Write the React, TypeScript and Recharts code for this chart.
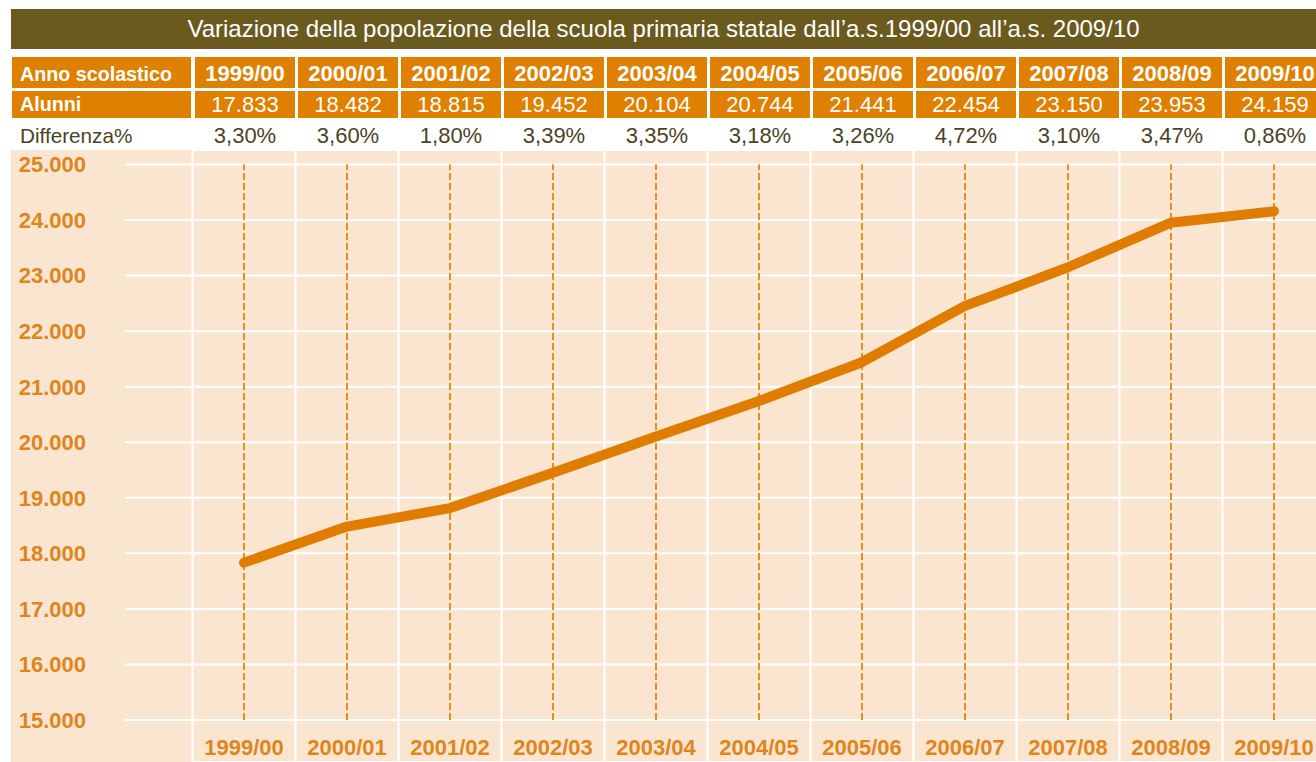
import React from 'react';
import { LineChart, Line, XAxis, YAxis, CartesianGrid, ReferenceLine } from 'recharts';

const years = ['1999/00', '2000/01', '2001/02', '2002/03', '2003/04', '2004/05', '2005/06', '2006/07', '2007/08', '2008/09', '2009/10'];
const alunni = [17833, 18482, 18815, 19452, 20104, 20744, 21441, 22454, 23150, 23953, 24159];
const differenza = ['3,30%', '3,60%', '1,80%', '3,39%', '3,35%', '3,18%', '3,26%', '4,72%', '3,10%', '3,47%', '0,86%'];
const yTicks = [15000, 16000, 17000, 18000, 19000, 20000, 21000, 22000, 23000, 24000, 25000];

const TITLE = 'Variazione della popolazione della scuola primaria statale dall’a.s.1999/00 all’a.s. 2009/10';

const data = years.map((anno, i) => ({ idx: i, anno, alunni: alunni[i] }));

const FONT = '"Liberation Sans", Arial, Helvetica, sans-serif';
const OLIVE = '#6a5a1e';
const ORANGE = '#df8000';
const LABEL = '#e0851c';
const PEACH = '#fae6d0';

// layout
const AXIS_W = 192.5;
const COL_W = 103;
const CHART_TOP = 150;
const CHART_H = 612;
const CHART_W = 1340;

// Italian thousands separator
const fmt = (v: number) => String(v).replace(/\B(?=(\d{3})+(?!\d))/g, '.');

const cellLeft = (i: number) => AXIS_W + COL_W * i + 2.5;

const Row = ({ top, height, label, values, bold, bg, color, valueBold, labelSize, valueSize, shift = 0 }: any) => (
  <>
    <div
      style={{
        position: 'absolute', left: 12, top: top, width: 179, height, background: bg, color,
        fontWeight: bold ? 'bold' : 'normal', fontSize: labelSize, lineHeight: `${height + shift * 2}px`,
        paddingLeft: 8, boxSizing: 'border-box', whiteSpace: 'nowrap', overflow: 'hidden',
      }}
    >
      {label}
    </div>
    {values.map((v: string, i: number) => (
      <div
        key={i}
        style={{
          position: 'absolute', left: cellLeft(i), top, width: 100, height, background: bg, color,
          fontWeight: valueBold ? 'bold' : 'normal', fontSize: valueSize, lineHeight: `${height + shift * 2}px`,
          textAlign: 'center', whiteSpace: 'nowrap', overflow: 'hidden',
        }}
      >
        {v}
      </div>
    ))}
  </>
);

export default function App() {
  return (
    <div style={{ position: 'absolute', left: 0, top: 0, width: 1316, height: 762, overflow: 'hidden', background: '#fff', fontFamily: FONT }}>
      <div
        style={{
          position: 'absolute', left: 11, top: 9, width: 1305, height: 40, background: OLIVE, color: '#fff',
          fontSize: 24, lineHeight: '40px', textAlign: 'center', whiteSpace: 'nowrap',
        }}
      >
        {TITLE}
      </div>

      <Row top={57} height={31} shift={1.5} label="Anno scolastico" values={years} bold valueBold bg={ORANGE} color="#fff" labelSize={19.7} valueSize={22} />
      <Row top={91} height={27} label="Alunni" values={alunni.map(fmt)} bold bg={ORANGE} color="#fff" labelSize={19.7} valueSize={22} />
      <Row top={120} height={29} shift={1} label="Differenza%" values={differenza} bg="#fff" color="#4a4424" labelSize={20.7} valueSize={22} />

      <div style={{ position: 'absolute', left: 11, top: CHART_TOP, width: 1305, height: CHART_H, background: PEACH }} />

      <div style={{ position: 'absolute', left: 0, top: CHART_TOP }}>
        <LineChart
          width={CHART_W}
          height={CHART_H}
          data={data}
          margin={{ top: 0, right: CHART_W - AXIS_W - COL_W * years.length, bottom: 0, left: 0 }}
        >
          <CartesianGrid vertical={false} stroke="#ffffff" strokeWidth={2} />
          <XAxis
            dataKey="idx"
            type="number"
            domain={[-0.5, years.length - 0.5]}
            allowDataOverflow
            ticks={years.map((_, i) => i)}
            tickFormatter={(i: number) => years[i]}
            mirror
            axisLine={false}
            tickLine={false}
            tickMargin={1.5}
            tick={{ fill: LABEL, fontSize: 22, fontWeight: 'bold', fontFamily: FONT }}
            interval={0}
          />
          <YAxis
            type="number"
            width={AXIS_W}
            domain={[14244, 25261]}
            allowDataOverflow
            ticks={yTicks}
            tickFormatter={fmt}
            axisLine={false}
            tickLine={{ stroke: '#ffffff', strokeWidth: 2 }}
            tickSize={67.5}
            tickMargin={39}
            tick={{ fill: LABEL, fontSize: 22, fontWeight: 'bold', fontFamily: FONT }}
            interval={0}
          />
          {years.concat(['']).map((_, i) => (
            <ReferenceLine key={`b${i}`} x={i - 0.5} stroke="#ffffff" strokeWidth={2} />
          ))}
          {years.map((_, i) => (
            <ReferenceLine
              key={`d${i}`}
              segment={[{ x: i, y: yTicks[0] }, { x: i, y: yTicks[yTicks.length - 1] }]}
              stroke="#e8901e"
              strokeWidth={2}
              strokeDasharray="7 3"
            />
          ))}
          <Line
            type="linear"
            dataKey="alunni"
            stroke="#e07d00"
            strokeWidth={10}
            strokeLinecap="round"
            strokeLinejoin="round"
            dot={false}
            activeDot={false}
            isAnimationActive={false}
          />
        </LineChart>
      </div>
    </div>
  );
}
